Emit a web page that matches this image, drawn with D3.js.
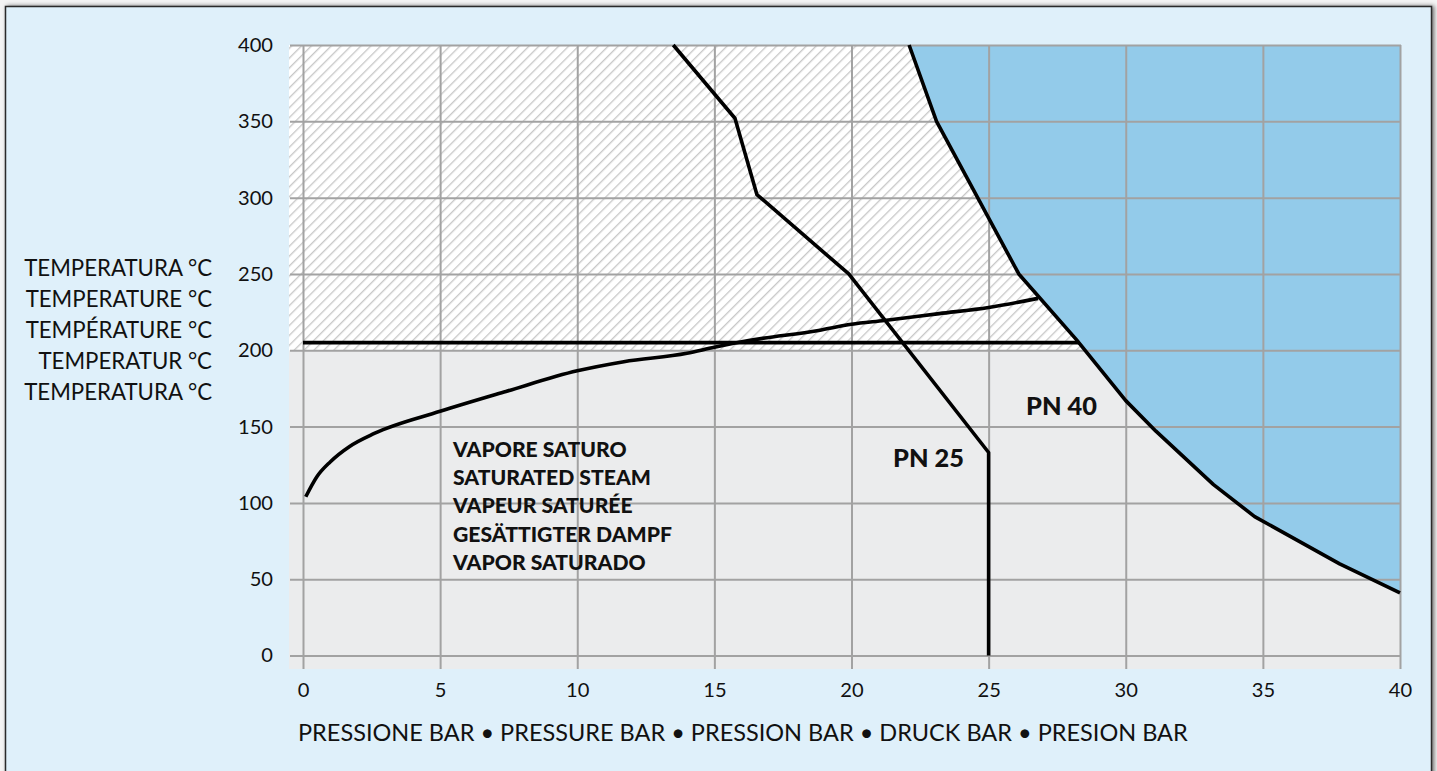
<!DOCTYPE html>
<html>
<head>
<meta charset="utf-8">
<script src="https://cdn.jsdelivr.net/npm/d3@7"></script>
<style>
  html,body{margin:0;padding:0;background:#f4f4f4;}
  svg{display:block;}
  text{font-family:"Lato","Open Sans",sans-serif;fill:#111;}
</style>
</head>
<body>
<svg id="chart" width="1437" height="771"></svg>
<script>
// ---------- data ----------
const xTicks = [0, 5, 10, 15, 20, 25, 30, 35, 40];
const yTicks = [0, 50, 100, 150, 200, 250, 300, 350, 400];

// PN 40 limit curve [pressure bar, temperature °C]
const pn40 = [[22.1,400],[23.1,350],[26.1,250],[28.2,207],[30,167],[31.1,147],[33.2,112],[34.7,91],[37.8,60],[40,41]];
// PN 25 limit curve
const pn25 = [[13.5,400],[15.75,352],[16.55,302],[19.9,250],[25,133],[25,0]];
// saturated steam curve
const steam = [[0.1,104],[0.5,117],[1,127],[1.7,137],[2.6,145.5],[5,160],[7.4,173],[10,186.5],[11.7,192.5],[14,198],[15,202],[16.3,206.5],[18.8,213],[20,217],[21.2,219.5],[23.2,224],[25,228],[26.8,234]];

const limitTemp = 205;   // horizontal black limit line
const hatchFloor = 200;  // lower edge of hatched zone

const yTitleLines = ["TEMPERATURA °C","TEMPERATURE °C","TEMPÉRATURE °C","TEMPERATUR °C","TEMPERATURA °C"];
const steamLines = ["VAPORE SATURO","SATURATED STEAM","VAPEUR SATURÉE","GESÄTTIGTER DAMPF","VAPOR SATURADO"];
const xTitle = "PRESSIONE BAR • PRESSURE BAR • PRESSION BAR • DRUCK BAR • PRESION BAR";
const pnLabels = ["PN 25","PN 40"];

// ---------- layout ----------
const svg = d3.select("#chart");
const x = d3.scaleLinear().domain([0,40]).range([303,1400]);
const y = d3.scaleLinear().domain([0,400]).range([655.5,45]);
const plotLeft = 289, plotRight = 1401, plotBottom = 669;

const defs = svg.append("defs");
const f = defs.append("filter").attr("id","shadow").attr("x","-5%").attr("y","-5%").attr("width","110%").attr("height","110%");
f.append("feDropShadow").attr("dx",2).attr("dy",0).attr("stdDeviation",2).attr("flood-color","#000").attr("flood-opacity",0.55);

const hs = 7;
const pat = defs.append("pattern").attr("id","hatch").attr("patternUnits","userSpaceOnUse")
  .attr("width",hs).attr("height",hs).attr("patternTransform","rotate(45)");
pat.append("rect").attr("width",hs).attr("height",hs).attr("fill","#ffffff");
pat.append("line").attr("x1",0.75).attr("y1",0).attr("x2",0.75).attr("y2",hs)
  .attr("stroke","#adadad").attr("stroke-width",0.9);

// frame
svg.append("rect").attr("x",5.5).attr("y",6.5).attr("width",1426).attr("height",790)
  .attr("fill","#dff0fa").attr("stroke","#2b2b2b").attr("stroke-width",1.5).attr("filter","url(#shadow)");

// gray lower zone
svg.append("rect").attr("x",plotLeft).attr("y",y(hatchFloor)).attr("width",plotRight-plotLeft)
  .attr("height",plotBottom-y(hatchFloor)).attr("fill","#ebeced");
// hatched upper zone
svg.append("rect").attr("x",plotLeft).attr("y",y(400)).attr("width",plotRight-plotLeft)
  .attr("height",y(hatchFloor)-y(400)).attr("fill","url(#hatch)");
// blue zone right of PN40
const area = pn40.concat([[40,400]]);
svg.append("path").attr("d", d3.line().x(d=>x(d[0])).y(d=>y(d[1]))(area)+"Z").attr("fill","#93cbea");

// grid + axes
const gx = svg.append("g").attr("transform",`translate(0,${plotBottom})`)
  .call(d3.axisBottom(x).tickValues(xTicks).tickSize(-(plotBottom-y(400))).tickPadding(14).tickFormat(d3.format("d")));
const gy = svg.append("g").attr("transform",`translate(${plotLeft+1},0)`)
  .call(d3.axisLeft(y).tickValues(yTicks).tickSize(-(plotRight-plotLeft-1)).tickPadding(17).tickFormat(d3.format("d")));
[gx,gy].forEach(g=>{
  g.select(".domain").remove();
  g.selectAll(".tick line").attr("stroke","#a2a2a2").attr("stroke-width",2);
  g.selectAll(".tick text").attr("font-size",19).attr("font-family","Lato").attr("fill","#111");
});

// curves
const line = d3.line().x(d=>x(d[0])).y(d=>y(d[1]));
const curveStyle = p => p.attr("fill","none").attr("stroke","#000").attr("stroke-width",3.6).attr("stroke-linejoin","round");

// limit line end where PN40 reaches limitTemp
function xAtTemp(curve, t){
  for(let i=0;i<curve.length-1;i++){
    const a=curve[i], b=curve[i+1];
    if((a[1]-t)*(b[1]-t)<=0){ return a[0]+(b[0]-a[0])*(t-a[1])/(b[1]-a[1]); }
  }
  return curve[curve.length-1][0];
}
svg.append("path").attr("d", line([[0,limitTemp],[xAtTemp(pn40,limitTemp),limitTemp]])).call(curveStyle);
svg.append("path").attr("d", d3.line().x(d=>x(d[0])).y(d=>y(d[1])).curve(d3.curveMonotoneX)(steam)).call(curveStyle);
svg.append("path").attr("d", line(pn25)).call(curveStyle);
svg.append("path").attr("d", line(pn40)).call(curveStyle);

// text fitting helper
function fit(sel, target){
  const w = d3.max(sel.nodes(), n=>n.getComputedTextLength());
  const fs = parseFloat(sel.attr("font-size"));
  sel.attr("font-size", fs*target/w);
}

// y title
const yt = svg.append("g").selectAll("text").data(yTitleLines).join("text")
  .attr("x",212).attr("y",(d,i)=>276+i*31).attr("text-anchor","end").attr("font-size",22).text(d=>d);
fit(yt,188);

// x title
const xt = svg.append("text").attr("x",298).attr("y",741).attr("font-size",22).text(xTitle);
fit(xt,890);

// steam labels
const st = svg.append("g").selectAll("text").data(steamLines).join("text")
  .attr("x",453).attr("y",(d,i)=>457+i*28.2).attr("font-size",21).attr("font-weight",900).text(d=>d);
fit(st,219);

// PN labels
const p25 = svg.append("text").attr("x",893).attr("y",467).attr("font-size",26).attr("font-weight",900).text(pnLabels[0]);
fit(p25,71);
const p40 = svg.append("text").attr("x",1026).attr("y",415).attr("font-size",26).attr("font-weight",900).text(pnLabels[1]);
fit(p40,71);

// tick labels width fit
fit(gy.selectAll(".tick text").filter(d=>d===400), 35);
const tfs = gy.selectAll(".tick text").filter(d=>d===400).attr("font-size");
gy.selectAll(".tick text").attr("font-size",tfs);
gx.selectAll(".tick text").attr("font-size",tfs);
</script>
</body>
</html>
